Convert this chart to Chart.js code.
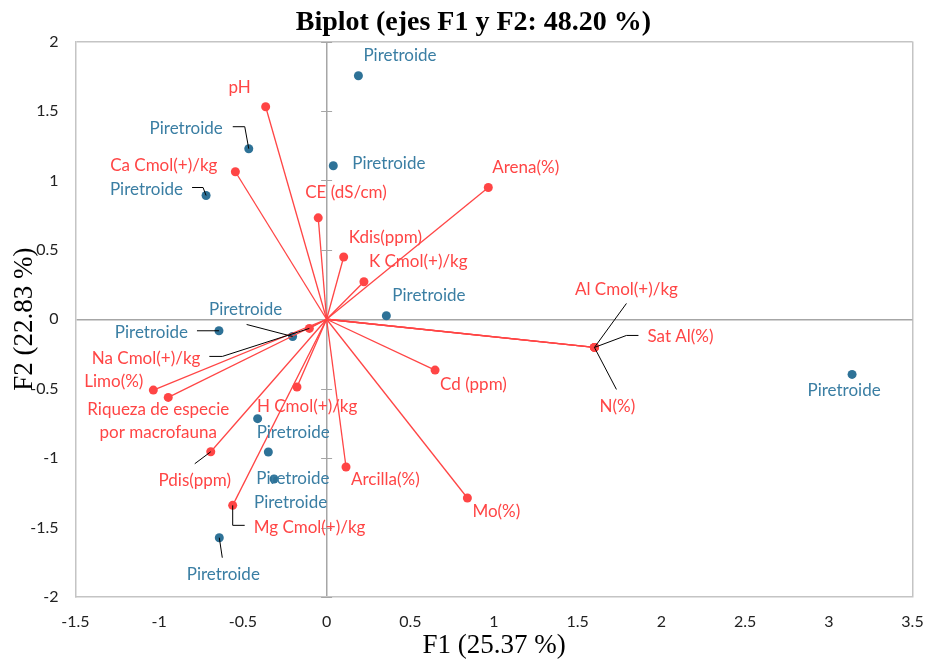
<!DOCTYPE html>
<html>
<head>
<meta charset="utf-8">
<script src="https://cdn.jsdelivr.net/npm/chart.js@4/dist/chart.umd.min.js"></script>
<style>
  html, body { margin: 0; padding: 0; background: #fff; }
  #wrap { width: 927px; height: 662px; }
</style>
</head>
<body>
<div id="wrap"><canvas id="biplot"></canvas></div>
<script>
// variables (vectors from origin)
const varNames = ['pH', 'Ca Cmol(+)/kg', 'CE (dS/cm)', 'Kdis(ppm)', 'K Cmol(+)/kg', 'Arena(%)',
    'Al Cmol(+)/kg', 'Sat Al(%)', 'N(%)', 'Na Cmol(+)/kg', 'Limo(%)',
    ['Riqueza de especie', 'por macrofauna'], 'H Cmol(+)/kg', 'Pdis(ppm)', 'Mg Cmol(+)/kg',
    'Arcilla(%)', 'Cd (ppm)', 'Mo(%)'];
const varF1 = [-0.364, -0.545, -0.05, 0.102, 0.223, 0.966, 1.6, 1.6, 1.6, -0.103, -1.035,
    -0.946, -0.177, -0.692, -0.561, 0.116, 0.648, 0.841];
const varF2 = [1.53, 1.062, 0.73, 0.448, 0.27, 0.949, -0.203, -0.203, -0.203, -0.066, -0.51,
    -0.563, -0.488, -0.954, -1.34, -1.064, -0.366, -1.287];

// observations
const obsNames = ['Piretroide', 'Piretroide', 'Piretroide', 'Piretroide', 'Piretroide', 'Piretroide',
    'Piretroide', 'Piretroide', 'Piretroide', 'Piretroide', 'Piretroide', 'Piretroide'];
const obsF1 = [0.19, -0.465, 0.04, -0.72, 0.357, -0.643, -0.203, -0.412, -0.348, -0.314, -0.641, 3.139];
const obsF2 = [1.753, 1.228, 1.105, 0.891, 0.025, -0.083, -0.124, -0.716, -0.956, -1.15, -1.573, -0.397];

// axis ticks
const xTicks = [-1.5, -1, -0.5, 0, 0.5, 1, 1.5, 2, 2.5, 3, 3.5];
const yTicks = [-2, -1.5, -1, -0.5, 0, 0.5, 1, 1.5, 2];

const RED = '#FF4545';
const BLUE = '#2E7297';
const BLUE_TXT = '#3A7EA3';
const LABEL_FONT = '17px Lato, "Open Sans", sans-serif';
const SERIF = '"Liberation Serif", "Times New Roman", serif';

// label placement (pixel offsets from the point) + optional leader lines
const varLabelPos = [
    {dx: -26, dy: -19, al: 'center'},
    {dx: -18, dy: -6, al: 'right'},
    {dx: -13, dy: -25, al: 'left'},
    {dx: 5, dy: -20, al: 'left'},
    {dx: 5, dy: -20, al: 'left'},
    {dx: 4, dy: -20, al: 'left'},
    {dx: 32, dy: -58, al: 'center', lead: [[0, 0], [32, -44]]},
    {dx: 53, dy: -11, al: 'left', lead: [[0, 0], [32, -12], [44, -12]]},
    {dx: 23, dy: 59, al: 'center', lead: [[0, 0], [22, 42]]},
    {dx: -109, dy: 30, al: 'right', lead: [[0, 0], [-87, 28], [-100, 28]]},
    {dx: -10, dy: -9, al: 'right'},
    {dx: -10, dy: 12, al: 'center'},
    {dx: -40, dy: 19, al: 'left'},
    {dx: -16, dy: 29, al: 'center', lead: [[0, 0], [-16, 12]]},
    {dx: 21, dy: 22, al: 'left', lead: [[0, 0], [0, 20], [12, 20]]},
    {dx: 5, dy: 13, al: 'left'},
    {dx: 5, dy: 14, al: 'left'},
    {dx: 5, dy: 14, al: 'left'}
];
const obsLabelPos = [
    {dx: 5, dy: -20, al: 'left'},
    {dx: -26, dy: -20, al: 'right', lead: [[0, 0], [-4, -22], [-16, -22]]},
    {dx: 19, dy: -2, al: 'left'},
    {dx: -23, dy: -6, al: 'right', lead: [[0, 0], [-3, -8], [-14, -8]]},
    {dx: 6, dy: -20, al: 'left'},
    {dx: -31, dy: 2, al: 'right', lead: [[0, 0], [-22, 0]]},
    {dx: -47, dy: -27, al: 'center', lead: [[0, 0], [-46, -12]]},
    {dx: -1, dy: 14, al: 'left'},
    {dx: -12, dy: 27, al: 'left'},
    {dx: -20, dy: 24, al: 'left'},
    {dx: 4, dy: 37, al: 'center', lead: [[0, 0], [3, 20]]},
    {dx: -8, dy: 16, al: 'center'}
];

const datasets = varF1.map((x, i) => ({
    label: Array.isArray(varNames[i]) ? varNames[i].join(' ') : varNames[i],
    data: [{x: 0, y: 0}, {x: x, y: varF2[i]}],
    showLine: true,
    borderColor: RED,
    borderWidth: 1.3,
    backgroundColor: RED,
    pointRadius: [0, 4.5],
    pointHoverRadius: [0, 4.5],
    pointBorderWidth: 0
}));
datasets.push({
    label: 'Observaciones',
    data: obsF1.map((x, i) => ({x: x, y: obsF2[i]})),
    showLine: false,
    backgroundColor: BLUE,
    borderColor: BLUE,
    pointRadius: 4.5,
    pointBorderWidth: 0
});

const gridColorX = (ctx) => {
    const v = ctx.tick && ctx.tick.value;
    if (v === 0) return '#A6A6A6';
    if (v === 3.5) return '#C4C4C4';
    return 'rgba(0,0,0,0)';
};
const gridColorY = (ctx) => {
    const v = ctx.tick && ctx.tick.value;
    if (v === 0) return '#A6A6A6';
    if (v === 2) return '#C4C4C4';
    return 'rgba(0,0,0,0)';
};

const biplotLabels = {
    id: 'biplotLabels',
    afterDraw(chart) {
        const c = chart.ctx;
        const xs = chart.scales.x, ys = chart.scales.y;
        const x0 = xs.getPixelForValue(0);

        // title
        c.save();
        c.font = 'bold 28px ' + SERIF;
        c.fillStyle = '#000';
        c.textAlign = 'center';
        c.textBaseline = 'middle';
        c.fillText('Biplot (ejes F1 y F2: 48.20 %)', 473.5, 23);
        c.restore();

        // small cross ticks on the vertical zero axis
        c.save();
        c.strokeStyle = '#A6A6A6';
        c.lineWidth = 1;
        yTicks.forEach(t => {
            if (t === 0) return;
            const py = Math.round(ys.getPixelForValue(t)) + 0.5;
            c.beginPath();
            c.moveTo(x0 - 5.5, py);
            c.lineTo(x0 + 5.5, py);
            c.stroke();
        });
        c.restore();

        const drawSet = (xsArr, ysArr, names, pos, color) => {
            xsArr.forEach((v, i) => {
                const px = xs.getPixelForValue(v);
                const py = ys.getPixelForValue(ysArr[i]);
                const p = pos[i];
                if (p.lead) {
                    c.save();
                    c.strokeStyle = '#000';
                    c.lineWidth = 1;
                    c.beginPath();
                    p.lead.forEach((q, k) => {
                        if (k === 0) c.moveTo(px + q[0], py + q[1]);
                        else c.lineTo(px + q[0], py + q[1]);
                    });
                    c.stroke();
                    c.restore();
                }
                c.save();
                c.font = LABEL_FONT;
                c.fillStyle = color;
                c.textAlign = p.al;
                c.textBaseline = 'middle';
                const lines = Array.isArray(names[i]) ? names[i] : [names[i]];
                lines.forEach((ln, k) => c.fillText(ln, px + p.dx, py + p.dy + k * 23.5));
                c.restore();
            });
        };
        drawSet(varF1, varF2, varNames, varLabelPos, RED);
        drawSet(obsF1, obsF2, obsNames, obsLabelPos, BLUE_TXT);
    }
};

new Chart(document.getElementById('biplot'), {
    type: 'scatter',
    data: {datasets: datasets},
    options: {
        responsive: true,
        maintainAspectRatio: false,
        animation: false,
        layout: {padding: {top: 41.5, right: 14.5, left: 0, bottom: 0}},
        plugins: {
            legend: {display: false},
            tooltip: {enabled: false},
            title: {display: false}
        },
        scales: {
            x: {
                type: 'linear',
                min: -1.5,
                max: 3.5,
                afterBuildTicks: (s) => { s.ticks = xTicks.map(v => ({value: v})); },
                afterFit: (s) => { s.height = 65; s.paddingLeft = 0; s.paddingRight = 0; },
                grid: {color: gridColorX, drawTicks: false, lineWidth: 1.5},
                border: {color: '#C4C4C4', width: 1.5},
                ticks: {
                    color: '#222',
                    font: {family: 'Lato, "Open Sans", sans-serif', size: 16},
                    padding: 15,
                    callback: (v) => String(v)
                },
                title: {
                    display: true,
                    text: 'F1 (25.37 %)',
                    color: '#000',
                    font: {family: SERIF, size: 27},
                    padding: {top: 0, bottom: 0}
                }
            },
            y: {
                type: 'linear',
                min: -2,
                max: 2,
                afterBuildTicks: (s) => { s.ticks = yTicks.map(v => ({value: v})); },
                afterFit: (s) => { s.width = 75.5; s.paddingTop = 0; s.paddingBottom = 0; },
                grid: {color: gridColorY, drawTicks: false, lineWidth: 1.5},
                border: {color: '#C4C4C4', width: 1.5},
                ticks: {
                    color: '#222',
                    font: {family: 'Lato, "Open Sans", sans-serif', size: 16},
                    padding: 17,
                    callback: (v) => String(v)
                },
                title: {
                    display: true,
                    text: 'F2 (22.83 %)',
                    color: '#000',
                    font: {family: SERIF, size: 27},
                    padding: {top: 9, bottom: 0}
                }
            }
        }
    },
    plugins: [biplotLabels]
});
</script>
</body>
</html>
